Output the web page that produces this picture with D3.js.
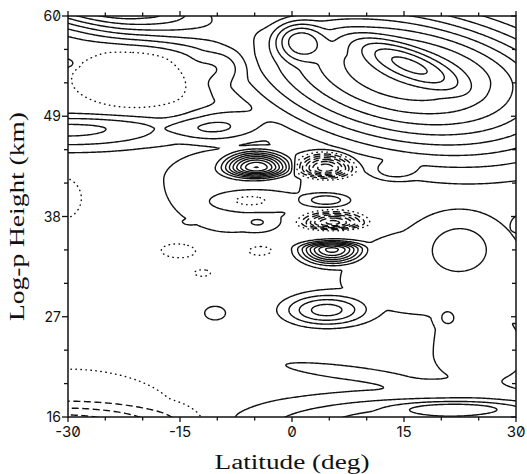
<!DOCTYPE html>
<html>
<head>
<meta charset="utf-8">
<script src="https://cdn.jsdelivr.net/npm/d3@7"></script>
<style>
  html, body { margin: 0; padding: 0; background: #fff; }
  svg { display: block; }
</style>
</head>
<body>
<svg id="chart" width="527" height="474"></svg>
<script>
// Axis ticks
const latTicks = [-30, -15, 0, 15, 30];
const heightTicks = [16, 27, 38, 49, 60];
const contourLevels = d3.range(-8, 14, 1);

// Background level of the field
const baseValue = 0.5;

// Field centres: latitude (deg), log-p height (km), amplitude,
// half-width in latitude, half-depth above / below the centre, tilt (km per deg)
const cellLat    = [-31, -30, 20, 22, 8, 25,    20, -8, 4.5, -10.3, 20.8, 31, 22.6, 30.8,  -15, -4.3, -12, -31, -31,  -6, -4.5, -13.7, 4.7, 13.8,   -4.7, 4.5, 5.5, 5.3,   -30, -10, -21, -9, -26, 15, 15.5, 0.8, -19, -30.5, -2];
const cellHeight = [15.0, 15.5, 15.0, 17, 20.8, 23,    31, 42, 27.7, 27.4, 26.9, 27.6, 34.9, 37.3,  34.3, 34.3, 31.8, 40, 27.5,  39.8, 37.3, 37.4, 39.8, 43,   43.4, 43.3, 37.3, 34.4,   47.6, 47.8, 53.0, 54.5, 62.5, 54, 54.8, 57.4, 60.3, 54.8, 46.3];
const cellAmp    = [-3.3, -1.0, 3.6, 1.8, 0.9, 1.2,    0.95, 1.3, 3.8, 0.9, 1.2, 0.9, 1.3, 0.8,  -0.8, -0.8, -0.7, -0.9, -0.7,  -1.8, 1.0, 0.6, 2.2, 1.6,   8.5, -7.5, -7, 7.5,   2.8, 2.5, -1.5, -1.0, 8, 8.5, 2.5, 3.0, 0.7, 1.5, 0.5];
const cellWidth  = [26, 30, 40, 12.8, 19, 11,    28, 16, 8.5, 3, 2.3, 2.6, 8.4, 2.2,  6, 5, 3, 6, 2.2,  8, 3.6, 1.3, 4.5, 4.5,   6.5, 5.5, 6.3, 6.3,   24, 9, 14, 5, 24, 36, 11, 5, 2, 2.5, 0.8];
const cellUp     = [3.8, 11.5, 5.5, 1.2, 1.6, 6,    12, 6, 2.6, 1.6, 1.8, 1.8, 5.5, 1.6,  2, 1.6, 1, 5, 1.5,  2, 1.3, 0.4, 1.1, 1.5,   2.6, 2.5, 1.8, 1.3,   2.4, 3, 5.5, 2.5, 6, 11, 2.8, 3, 0.6, 1, 0.3];
const cellDown   = [3.0, 11.5, 3, 1.2, 1.6, 6,    8, 10, 2.6, 1.6, 1.8, 1.8, 5.5, 1.6,  2, 1.6, 1, 5, 1.5,  2, 1.3, 0.4, 1.1, 1.5,   1.7, 1.6, 1.1, 2.4,   3.6, 2.5, 5, 2.5, 6.5, 14, 2.8, 3.5, 0.6, 1, 0.3];
const cellTilt   = [0, 0, 0, 0, -0.1, 0,    0, 0, 0, 0, 0, 0, 0, 0,  0, 0, 0, 0, 0,  0, 0, 0, 0, 0,   0, 0, 0, 0,   0, 0, 0, 0, -0.15, -0.12, -0.32, 0, 0, 0, 0];

const width = 527, height = 474;
const margin = { left: 68, right: 11, top: 16, bottom: 57 };
const plotW = width - margin.left - margin.right;   // 448
const plotH = height - margin.top - margin.bottom;  // 401

const x = d3.scaleLinear().domain([-30, 30]).range([margin.left, margin.left + plotW]);
const y = d3.scaleLinear().domain([16, 60]).range([margin.top + plotH, margin.top]);

function field(lat, z) {
  let v = baseValue;
  for (let k = 0; k < cellLat.length; k++) {
    const dl = (lat - cellLat[k]) / cellWidth[k];
    const dzRaw = z - cellHeight[k] - cellTilt[k] * (lat - cellLat[k]);
    const dz = dzRaw / (dzRaw > 0 ? cellUp[k] : cellDown[k]);
    const r2 = dl * dl + dz * dz;
    if (r2 < 1) v += cellAmp[k] * 0.5 * (1 + Math.cos(Math.PI * Math.sqrt(r2)));
  }
  return v;
}

// Sample grid, a little wider than the frame
const dLat = 0.2, dZ = 0.1;
const lat0 = -30.6, z0 = 15.7;
const nx = Math.round(61.2 / dLat) + 1;
const ny = Math.round(44.6 / dZ) + 1;
const values = new Float64Array(nx * ny);
for (let j = 0; j < ny; j++) {
  const z = z0 + j * dZ;
  for (let i = 0; i < nx; i++) values[j * nx + i] = field(lat0 + i * dLat, z);
}

const contours = d3.contours().size([nx, ny]).thresholds(contourLevels)(values);

// grid position -> screen position
const gx = px => x(lat0 + (px - 0.5) * dLat);
const gy = py => y(z0 + (py - 0.5) * dZ);
function contourPath(mp) {
  let s = "";
  for (const polygon of mp.coordinates) {
    for (const ring of polygon) {
      s += "M" + ring.map(p => gx(p[0]).toFixed(2) + "," + gy(p[1]).toFixed(2)).join("L") + "Z";
    }
  }
  return s;
}

const svg = d3.select("#chart");
svg.append("defs").append("clipPath").attr("id", "plotClip")
  .append("rect").attr("x", margin.left).attr("y", margin.top)
  .attr("width", plotW).attr("height", plotH);

// Contours: solid above zero, dotted at zero, dashed below zero
const g = svg.append("g").attr("clip-path", "url(#plotClip)");
g.selectAll("path").data(contours).join("path")
  .attr("d", contourPath)
  .attr("fill", "none")
  .attr("stroke", "#111")
  .attr("stroke-width", 1.4)
  .attr("stroke-linecap", d => d.value === 0 ? "round" : "butt")
  .attr("stroke-dasharray", d => d.value === 0 ? "0.5,4.5" : d.value < 0 ? "7,3.5" : null);

// Frame
svg.append("rect").attr("x", margin.left).attr("y", margin.top)
  .attr("width", plotW).attr("height", plotH)
  .attr("fill", "none").attr("stroke", "#111").attr("stroke-width", 1.5);

// Ticks
const latMinor = d3.range(-30, 30.01, 5);
const zMinor = d3.range(16, 60.01, 11 / 3);
const tk = svg.append("g").attr("stroke", "#111").attr("stroke-width", 1.3);
latMinor.forEach(v => {
  const major = latTicks.includes(v);
  tk.append("line").attr("x1", x(v)).attr("x2", x(v)).attr("y1", y(16)).attr("y2", y(16) + (major ? 5 : 3.5));
  tk.append("line").attr("x1", x(v)).attr("x2", x(v)).attr("y1", y(60)).attr("y2", y(60) - (major ? 5 : 3.5));
});
zMinor.forEach(v => {
  const major = heightTicks.some(t => Math.abs(t - v) < 0.01);
  tk.append("line").attr("y1", y(v)).attr("y2", y(v)).attr("x1", x(-30)).attr("x2", x(-30) - (major ? 6 : 4));
  tk.append("line").attr("y1", y(v)).attr("y2", y(v)).attr("x1", x(30)).attr("x2", x(30) - (major ? 5 : 4));
});

const tickFont = "Inter, 'DejaVu Sans', sans-serif";
svg.append("g").selectAll("text").data(latTicks).join("text")
  .attr("x", d => x(d)).attr("y", y(16) + 20)
  .attr("text-anchor", "middle")
  .attr("font-family", tickFont).attr("font-size", 15)
  .style("font-feature-settings", "'zero' 1")
  .attr("fill", "#111")
  .text(d => String(d));
svg.append("g").selectAll("text").data(heightTicks).join("text")
  .attr("x", x(-30) - 7).attr("y", d => y(d) + 5)
  .attr("text-anchor", "end")
  .attr("font-family", tickFont).attr("font-size", 14)
  .style("font-feature-settings", "'zero' 1")
  .attr("fill", "#111")
  .text(d => String(d));

const titleFont = "'Liberation Serif', 'DejaVu Serif', serif";
svg.append("text")
  .attr("x", x(0)).attr("y", 469)
  .attr("text-anchor", "middle")
  .attr("font-family", titleFont).attr("font-size", 20)
  .attr("fill", "#111")
  .attr("textLength", 155).attr("lengthAdjust", "spacingAndGlyphs")
  .text("Latitude (deg)");
svg.append("text")
  .attr("transform", `translate(24, ${y(38)}) rotate(-90)`)
  .attr("text-anchor", "middle")
  .attr("font-family", titleFont).attr("font-size", 20)
  .attr("fill", "#111")
  .attr("textLength", 209).attr("lengthAdjust", "spacingAndGlyphs")
  .text("Log-p Height (km)");
</script>
</body>
</html>
